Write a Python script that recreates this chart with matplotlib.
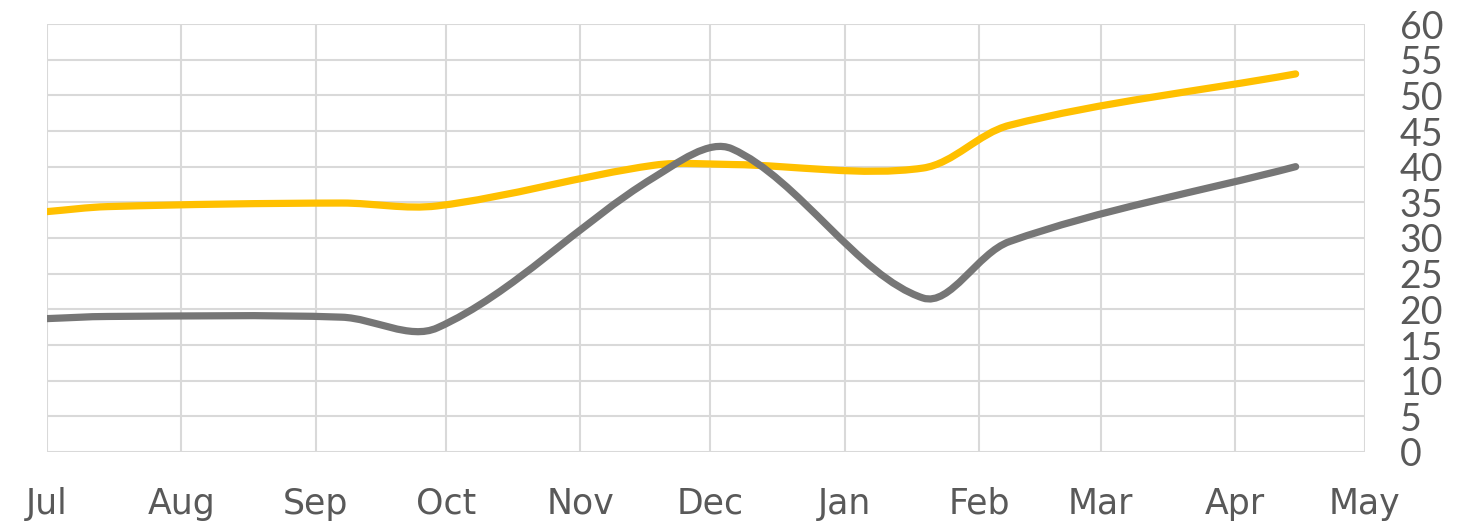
import matplotlib

matplotlib.use("Agg")
import matplotlib.dates as mdates
import matplotlib.pyplot as plt
import numpy as np
import pandas as pd
from matplotlib.patches import PathPatch
from matplotlib.path import Path

# data
dates = pd.to_datetime([
    "2017-07-01", "2017-07-15", "2017-09-07", "2017-09-29", "2017-11-18",
    "2017-12-06", "2018-01-19", "2018-02-08", "2018-04-15",
])
gold_values = [33.7, 34.4, 34.9, 34.5, 40.2, 40.3, 39.8, 45.8, 53.0]
grey_values = [18.7, 19.0, 18.9, 17.4, 38.5, 42.5, 21.6, 29.5, 40.0]
month_ticks = pd.date_range("2017-07-01", "2018-05-01", freq="MS")
y_ticks = list(range(0, 61, 5))

GOLD = "#FFC000"
GREY = "#767676"
TEXT = "#595959"
GRID = "#D9D9D9"


def smooth_path(ax, x, y):
    # smoothed line: cubic Bezier through the points, tangents weighted by
    # chord length in screen space so short segments do not kink
    pts = ax.transData.transform(np.column_stack([x, y]))
    n = len(pts)
    seg = np.linalg.norm(np.diff(pts, axis=0), axis=1)
    tangents = []
    for i in range(n):
        a = pts[max(i - 1, 0)]
        b = pts[min(i + 1, n - 1)]
        span = (seg[i - 1] if i > 0 else 0) + (seg[i] if i < n - 1 else 0)
        tangents.append((b - a) / span)
    verts = [pts[0]]
    codes = [Path.MOVETO]
    for i in range(n - 1):
        d = seg[i] / 3
        verts += [pts[i] + tangents[i] * d, pts[i + 1] - tangents[i + 1] * d, pts[i + 1]]
        codes += [Path.CURVE4] * 3
    verts = ax.transData.inverted().transform(np.array(verts))
    return Path(verts, codes)


def main() -> None:
    fig = plt.figure(figsize=(14.6, 5.26), dpi=100)
    ax = fig.add_axes([47 / 1460, 74 / 526, 1318 / 1460, 428 / 526])

    xnum = mdates.date2num(dates)
    ax.set_xlim(mdates.date2num(month_ticks[0]), mdates.date2num(month_ticks[-1]))
    ax.set_ylim(0, 60)

    ax.set_xticks(mdates.date2num(month_ticks))
    ax.set_xticklabels([d.strftime("%b") for d in month_ticks])
    ax.set_yticks(y_ticks)
    ax.yaxis.tick_right()
    ax.tick_params(axis="both", length=0, labelcolor=TEXT)
    ax.tick_params(axis="x", pad=25)
    ax.tick_params(axis="y", pad=25)
    for lbl in ax.get_xticklabels():
        lbl.set_fontfamily(["DejaVu Sans"])
        lbl.set_fontsize(25)
    for lbl in ax.get_yticklabels():
        lbl.set_fontfamily(["Lato", "DejaVu Sans"])
        lbl.set_fontsize(27)
        lbl.set_horizontalalignment("left")
    ax.grid(True, color=GRID, linewidth=1.5)
    ax.set_axisbelow(True)
    for spine in ax.spines.values():
        spine.set_visible(False)

    for values, color in [(gold_values, GOLD), (grey_values, GREY)]:
        patch = PathPatch(
            smooth_path(ax, xnum, values),
            facecolor="none",
            edgecolor=color,
            linewidth=5.2,
            capstyle="round",
            joinstyle="round",
        )
        ax.add_patch(patch)

    fig.savefig("out.png", dpi=100)
    plt.close(fig)


if __name__ == "__main__":
    main()
